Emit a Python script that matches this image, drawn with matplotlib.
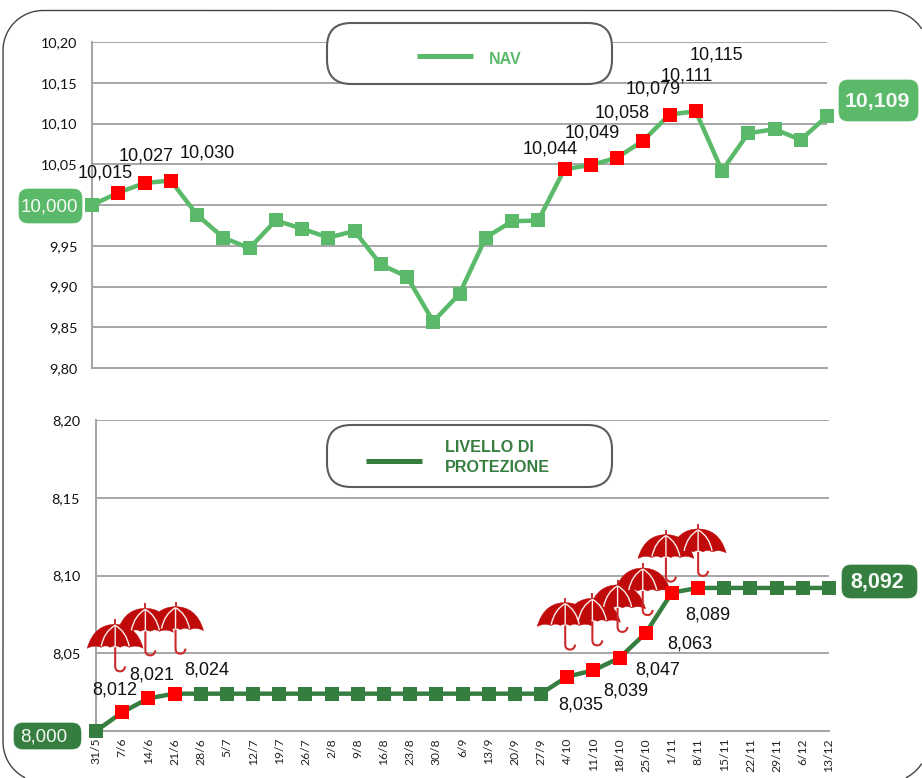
import matplotlib
matplotlib.use("Agg")
import matplotlib.pyplot as plt
import numpy as np
from matplotlib.patches import FancyBboxPatch, PathPatch
from matplotlib.path import Path
from matplotlib.lines import Line2D
from matplotlib.transforms import IdentityTransform

W, H = 922, 778
dates = ["31/5","7/6","14/6","21/6","28/6","5/7","12/7","19/7","26/7","2/8","9/8","16/8","23/8","30/8",
         "6/9","13/9","20/9","27/9","4/10","11/10","18/10","25/10","1/11","8/11","15/11","22/11","29/11","6/12","13/12"]
nav = [10.000,10.015,10.027,10.030,9.988,9.960,9.947,9.981,9.971,9.960,9.968,9.927,9.912,9.857,
       9.891,9.960,9.980,9.981,10.044,10.049,10.058,10.079,10.111,10.115,10.042,10.088,10.093,10.080,10.109]
protection = [8.000,8.012,8.021,8.024,8.024,8.024,8.024,8.024,8.024,8.024,8.024,8.024,8.024,8.024,
              8.024,8.024,8.024,8.024,8.035,8.039,8.047,8.063,8.089,8.092,8.092,8.092,8.092,8.092,8.092]
red_idx = [1,2,3,18,19,20,21,22,23]
nav_ticks = [9.80,9.85,9.90,9.95,10.00,10.05,10.10,10.15,10.20]
prot_ticks = [8.00,8.05,8.10,8.15,8.20]
nav_offsets = [(-13,20),(2,27),(36,28),(-14,20),(1,32),(5,45),(10,52),(17,39),(21,56)]
prot_offsets = [(-7,22),(3,23),(32,24),(14,-28),(32,-21),(38,-12),(44,-11),(36,-22)]
umbrella_offsets = [(-7,-93),(-3,-95),(1,-92),(-2,-79),(-1,-77),(-2,-78),(-3,-70),(-6,-63),(0,-64)]

LIGHT = "#5aba6a"; DARK = "#357e3f"; GRID = "#a6a6a6"; UMB = "#c00a0a"
SANS = "Liberation Sans"; TICK = "Lato"
fmt2 = lambda v: f"{v:.2f}".replace(".", ",")
fmt3 = lambda v: f"{v:.3f}".replace(".", ",")

fig = plt.figure(figsize=(W/100, H/100), dpi=100)
def make_ax(l, r, t, b):
    return fig.add_axes([l/W, 1-b/H, (r-l)/W, (b-t)/H])
ax1 = make_ax(92, 827, 42, 368)
ax2 = make_ax(96, 829, 420, 731)

I = IdentityTransform()
def D(px, py):
    return px, H - py

def round_box(px0, py0, px1, py1, rad, fc, ec, lw=1.5, z=2.6, ax=None):
    x0, y0 = D(px0, py1)
    p = FancyBboxPatch((x0, y0), px1-px0, py1-py0, boxstyle=f"round,pad=0,rounding_size={rad}",
                       fc=fc, ec=ec, lw=lw, transform=I, clip_on=False, zorder=z)
    (ax or ax1).add_patch(p)

def style(ax, vals, ticks, hidden, color, ylim, pad):
    xs = list(range(len(vals)))
    ax.set_xlim(0, len(vals)-1)
    ax.set_ylim(*ylim)
    ax.plot(xs, vals, color=color, lw=3.2, marker="s", ms=10.2, mew=0, clip_on=False, zorder=4, solid_joinstyle="miter")
    ax.plot([xs[i] for i in red_idx], [vals[i] for i in red_idx], ls="", marker="s", ms=10.2, mew=0,
            color="#ff0000", clip_on=False, zorder=5)
    ax.set_yticks(ticks)
    ax.set_yticklabels(["" if t == hidden else fmt2(t) for t in ticks], fontfamily=TICK, fontsize=10.4, color="#111111")
    ax.tick_params(axis="y", length=0, pad=pad)
    ax.grid(axis="y", color=GRID, lw=1.4)
    ax.set_axisbelow(True)
    for s in ["top", "right"]:
        ax.spines[s].set_visible(False)
    for s in ["left", "bottom"]:
        ax.spines[s].set_color(GRID)
        ax.spines[s].set_linewidth(1.5)

style(ax1, nav, nav_ticks, 10.00, LIGHT, (9.80, 10.20), 10.5)
ax1.set_xticks([])
style(ax2, protection, prot_ticks, 8.00, DARK, (8.00, 8.20), 11.5)
ax2.set_xticks(range(len(dates)))
ax2.set_xticklabels(dates, rotation=90, fontfamily=TICK, fontsize=8.7, color="#222222")
ax2.tick_params(axis="x", length=0, pad=5)

# data labels
for i, off in zip(red_idx, nav_offsets):
    ax1.annotate(fmt3(nav[i]), (i, nav[i]), xytext=(off[0]*0.72, off[1]*0.72), textcoords="offset points",
                 ha="center", va="center", fontfamily=SANS, fontsize=13, color="#111111", zorder=6, annotation_clip=False)
for i, off in zip(red_idx[:-1], prot_offsets):
    ax2.annotate(fmt3(protection[i]), (i, protection[i]), xytext=(off[0]*0.72, off[1]*0.72), textcoords="offset points",
                 ha="center", va="center", fontfamily=SANS, fontsize=13, color="#111111", zorder=6, annotation_clip=False)

# umbrellas (pixel shapes anchored to the red points)
def umbrella(ax, cx, top):
    def P(dx, dy):
        return cx + dx, H - (top + dy)
    M, L, C = Path.MOVETO, Path.LINETO, Path.CURVE4
    Q = Path.CURVE3
    verts = [P(-28,29), P(-23,11), P(-12,5), P(0,5), P(12,5), P(23,11), P(28,29)]
    codes = [M, C, C, C, C, C, C]
    edge = [28, 14, 5, -5, -14, -28]
    for a, b in zip(edge[:-1], edge[1:]):
        verts += [P((a+b)/2, 25), P(b, 28 if abs(b) < 28 else 29)]
        codes += [Q, Q]
    verts.append(P(-28,29)); codes.append(Path.CLOSEPOLY)
    ax.add_patch(PathPatch(Path(verts, codes), fc=UMB, ec=UMB, lw=0.3, transform=I, clip_on=False, zorder=3))
    for c1, e in [(-11,-14), (11,14), (0,0)]:
        v = [P(0,6), P(c1,12), P(e,27)]
        ax.add_patch(PathPatch(Path(v, [M, Q, Q]), fc="none", ec="#fbeeee", lw=1.0, transform=I, clip_on=False, zorder=3.1))
    v = [P(0,0), P(0,5)]
    ax.add_patch(PathPatch(Path(v, [M, L]), fc="none", ec=UMB, lw=1.2, transform=I, clip_on=False, zorder=3))
    v = [P(0,28), P(0,47), P(0,52), P(5,52), P(9,52), P(10,47)]
    ax.add_patch(PathPatch(Path(v, [M, L, Q, Q, Q, Q]), fc="none", ec="#cc2a2a", lw=1.5, transform=I, clip_on=False, zorder=3))

for i, off in zip(red_idx, umbrella_offsets):
    x, y = ax2.transData.transform((i, protection[i]))
    umbrella(ax2, x + off[0], H - y + off[1])

# outer frame: rounded rectangle cut at the picture's right and bottom edges
L_, R_, T_, B_, r_ = 3, 928, 10.5, 782, 40
def arc(cx, cy, a0, a1):
    t = np.radians(np.linspace(a0, a1, 60))
    return cx + r_*np.cos(t), cy + r_*np.sin(t)
def keep(xs, ys):
    m = (xs <= W - 0.5) & (ys <= H - 0.5)
    return xs[m], ys[m]
# angles measured in picture pixels, y downwards
x1, y1 = keep(*arc(L_+r_, B_-r_, 90, 180))
x2, y2 = arc(L_+r_, T_+r_, 180, 270)
x3, y3 = keep(*arc(R_-r_, T_+r_, 270, 360))
x4, y4 = keep(*arc(R_-r_, B_-r_, 0, 90))
main_x = np.concatenate([x1, x2, x3]); main_y = np.concatenate([y1, y2, y3])
fig.add_artist(Line2D(main_x, H - main_y, color="#444444", lw=1.0, transform=I, zorder=10))
fig.add_artist(Line2D(x4, H - y4, color="#444444", lw=1.0, transform=I, zorder=10))

# legends
round_box(327, 23, 612, 84, 24, "white", "#5c5c5c", 1.5, 2.6, ax1)
x, y = D(417, 56)
ax1.add_line(Line2D([417, 473], [y, y], color=LIGHT, lw=3.6, transform=I, clip_on=False, zorder=2.7, solid_capstyle="butt"))
ax1.text(*D(489, 60), "NAV", transform=I, color=LIGHT, fontfamily=SANS, fontweight="bold", fontsize=11.5, va="center", ha="left", zorder=2.8, clip_on=False)

round_box(327, 425, 612, 487, 24, "white", "#5c5c5c", 1.5, 2.6, ax2)
x, y = D(366, 461)
ax2.add_line(Line2D([366, 422], [y, y], color=DARK, lw=3.6, transform=I, clip_on=False, zorder=2.7, solid_capstyle="butt"))
ax2.text(*D(445, 448), "LIVELLO DI", transform=I, color=DARK, fontfamily=SANS, fontweight="bold", fontsize=11.6, va="center", ha="left", zorder=2.8, clip_on=False)
ax2.text(*D(445, 467), "PROTEZIONE", transform=I, color=DARK, fontfamily=SANS, fontweight="bold", fontsize=11.6, va="center", ha="left", zorder=2.8, clip_on=False)

# value badges
def badge(ax, box, txt, color, size, weight, txt_x):
    round_box(*box, 9, color, color, 0.5, 3.5, ax)
    ax.text(*D(txt_x, (box[1]+box[3])/2 + 0.5), txt, transform=I, color="#f4f8f4", fontfamily=SANS, fontsize=size,
            fontweight=weight, va="center", ha="center", zorder=6, clip_on=False)

badge(ax1, (19, 189, 82, 223), fmt3(nav[0]), LIGHT, 13.5, "normal", 49)
badge(ax1, (839, 80, 918, 121), fmt3(nav[-1]), LIGHT, 15.3, "bold", 877)
badge(ax2, (14, 723, 81, 749), fmt3(protection[0]), DARK, 13.5, "normal", 44)
badge(ax2, (842, 565, 917, 598), fmt3(protection[-1]), DARK, 15.5, "bold", 877)

fig.savefig("out.png", dpi=100)
